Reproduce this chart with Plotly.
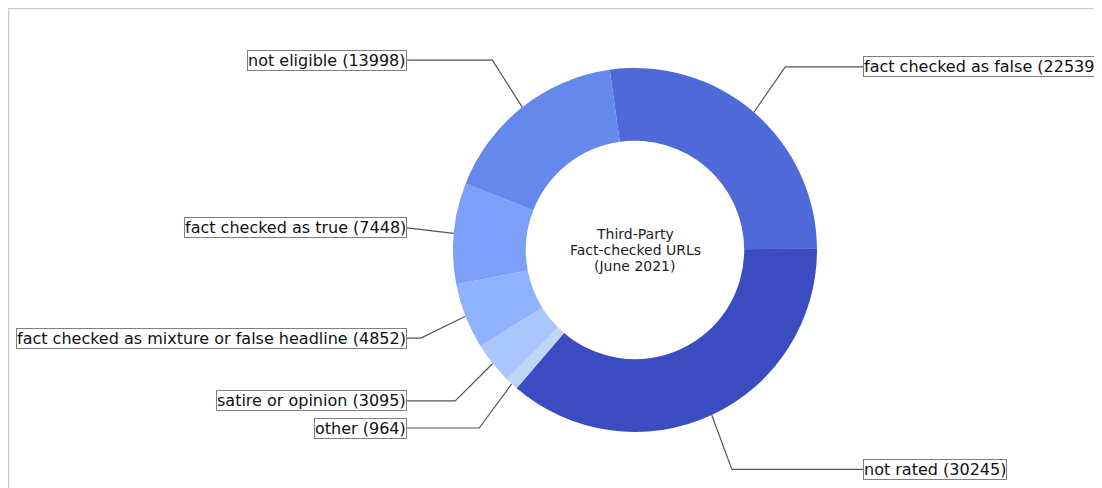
import math
import plotly.graph_objects as go

# ---- data ----
categories = [
    "fact checked as false",
    "not rated",
    "other",
    "satire or opinion",
    "fact checked as mixture or false headline",
    "fact checked as true",
    "not eligible",
]
counts = [22539, 30245, 964, 3095, 4852, 7448, 13998]
colors = ["#4f69d9", "#3a4cc0", "#c0d4f5", "#aac7fd", "#8fb1fe", "#7c9ff9", "#6588ed"]
center_title = ["Third-Party", "Fact-checked URLs", "(June 2021)"]

# ---- layout geometry (page pixels; page body has an 8px margin) ----
W, H = 1102, 488
OFF = 8
FW, FH = W - OFF, H - OFF
cx, cy, R = 635, 250, 182
rotation = -8  # degrees, clockwise from 12 o'clock
label_dx = 228
corner_kx, corner_ky = 230, 242

fig = go.Figure()

fig.add_trace(go.Pie(
    labels=categories,
    values=counts,
    marker=dict(colors=colors, line=dict(width=0)),
    hole=0.6,
    sort=False,
    direction="clockwise",
    rotation=rotation,
    textinfo="none",
    hoverinfo="label+value",
    showlegend=False,
    domain=dict(x=[(cx - R - OFF) / FW, (cx + R - OFF) / FW],
                y=[(FH - (cy - OFF) - R) / FH, (FH - (cy - OFF) + R) / FH]),
))

total = sum(counts)
cum = 0.0
annotations = []
for name, v in zip(categories, counts):
    frac = v / total
    mid = math.radians(90 - rotation - 360 * (cum + frac / 2))
    cum += frac
    c, s = math.cos(mid), math.sin(mid)
    px, py = cx + R * c, cy - R * s
    ly = cy - corner_ky * s
    kx = cx + corner_kx * c
    if c < 0:
        edge = cx - label_dx
        kx = max(kx, edge)
        xanchor = "right"
    else:
        edge = cx + label_dx
        kx = min(kx, edge)
        xanchor = "left"
    fig.add_trace(go.Scatter(
        x=[edge, kx, px], y=[ly, ly, py], mode="lines",
        line=dict(color="#555555", width=1.2, simplify=False),
        hoverinfo="skip", showlegend=False,
    ))
    annotations.append(dict(
        x=edge, y=ly, xref="x", yref="y", text=f"{name} ({v})",
        showarrow=False, xanchor=xanchor, yanchor="middle",
        font=dict(family="DejaVu Sans", size=16, color="#111111"),
        bgcolor="white", bordercolor="#808080", borderwidth=1, borderpad=0,
    ))

for i, line in enumerate(center_title):
    annotations.append(dict(
        x=cx, y=cy + (i - 1) * 16, xref="x", yref="y", text=line,
        showarrow=False, xanchor="center", yanchor="middle",
        font=dict(family="DejaVu Sans", size=14, color="#222222"),
    ))

fig.update_layout(
    width=FW, height=FH,
    margin=dict(l=0, r=0, t=0, b=0),
    paper_bgcolor="white", plot_bgcolor="white",
    showlegend=False,
    xaxis=dict(range=[OFF, W], visible=False, fixedrange=True),
    yaxis=dict(range=[OFF + FH, OFF], visible=False, fixedrange=True),
    annotations=annotations,
    shapes=[dict(type="path", xref="x", yref="y",
                 path=f"M 8.5 {OFF + FH} L 8.5 8.5 L {W} 8.5",
                 line=dict(color="#cccccc", width=1.5))],
)

fig.write_html("out.html", default_width=f"{FW}px", default_height=f"{FH}px")
